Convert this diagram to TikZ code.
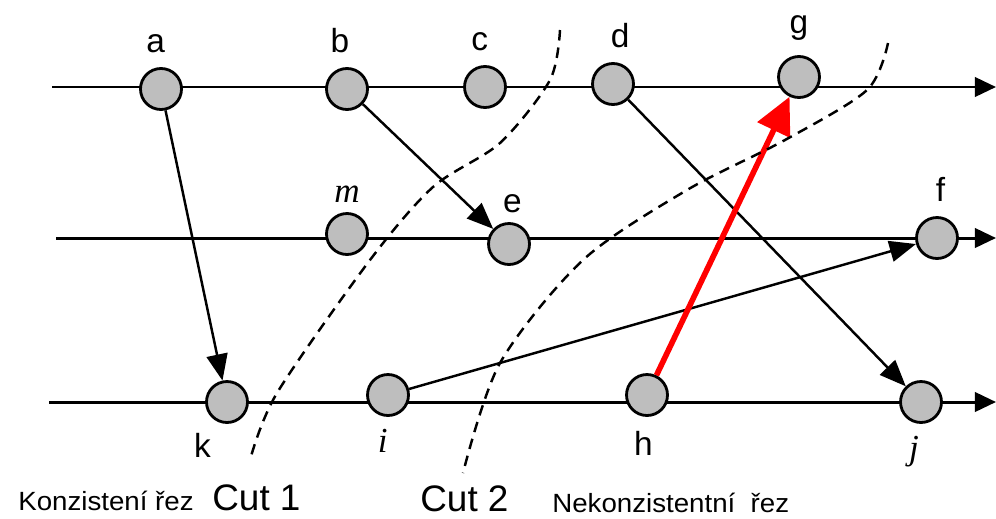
\documentclass[tikz,border=0pt]{standalone}
\usepackage{fontspec}
\setmainfont{Liberation Sans}
\newfontfamily\itserif{Liberation Serif}
\newfontfamily\widesans[FakeStretch=1.05]{Liberation Sans}
\usetikzlibrary{arrows.meta}
\definecolor{evfill}{RGB}{190,190,190}
\tikzset{
  event/.style={circle, draw, line width=1.6pt, fill=evfill, minimum size=0.82cm, inner sep=0pt},
  lbl/.style={font=\fontsize{19}{22}\selectfont, inner sep=2pt},
  ilbl/.style={font=\fontsize{20}{22}\selectfont\itserif\itshape, inner sep=2pt},
  timeline/.style={line width=1.7pt, -{Triangle[length=12pt,width=11pt]}},
  msg/.style={line width=1.4pt, -{Triangle[length=15pt,width=12pt]}},
  badmsg/.style={red, line width=3.2pt, -{Triangle[length=21pt,width=20pt]}},
  cutline/.style={line width=1.4pt, dash pattern=on 6pt off 4pt},
  cutlbl/.style={font=\fontsize{21}{24}\selectfont, inner sep=0pt, anchor=base west},
  caption/.style={font=\fontsize{15}{17}\widesans, inner sep=0pt, anchor=base west},
}
\begin{document}
\begin{tikzpicture}[x=0.02cm, y=-0.02cm, label distance=6pt]
    \useasboundingbox (0,0) rectangle (996,518);
    % process lines
    \coordinate (p1) at (52,87);  \coordinate (p1end) at (996,87);
    \coordinate (p2) at (56,238); \coordinate (p2end) at (996,238);
    \coordinate (p3) at (49,402); \coordinate (p3end) at (996,402);
    \draw[timeline] (p1) -- (p1end);
    \draw[timeline] (p2) -- (p2end);
    \draw[timeline] (p3) -- (p3end);
    % events, process 1
    \node[event, label={[lbl,xshift=-3pt]above:a}] (a) at (161,89) {};
    \node[event, label={[lbl,xshift=-4pt]above:b}] (b) at (347,89) {};
    \node[event, label={[lbl,xshift=-3pt]above:c}] (c) at (485,87) {};
    \node[event, label={[lbl,xshift=4pt]above:d}] (d) at (613,84) {};
    \node[event, label={[lbl]above:g}] (g) at (799,77) {};
    % events, process 2
    \node[event, label={[ilbl,label distance=3pt]above:m}] (m) at (347,234) {};
    \node[event, label={[lbl,xshift=2pt,label distance=3pt]above:e}] (e) at (509,244) {};
    \node[event, label={[lbl,xshift=2pt]above:f}] (f) at (937,238) {};
    % events, process 3
    \node[event, label={[lbl,xshift=-14pt,label distance=3pt]below:k}] (k) at (227,402) {};
    \node[event, label={[ilbl,xshift=-3pt,label distance=5pt]below:i}] (i) at (388,395) {};
    \node[event, label={[lbl,xshift=-2pt,label distance=6pt]below:h}] (h) at (647,395) {};
    \node[event, label={[ilbl,xshift=-4pt,label distance=5pt]below:j}] (j) at (921,402) {};
    % messages
    \draw[msg] (a) -- (k);
    \draw[msg] (b) -- (e);
    \draw[msg] (d) -- (j);
    \draw[msg] (i) -- (f);
    \draw[badmsg] (h) -- (g);
    % cuts
    \draw[cutline] plot[smooth] coordinates {(560,30) (550,80) (500,143) (433,187) (370,260) (277,393) (250,460)};
    \draw[cutline] plot[smooth] coordinates {(888,43) (867,90) (785,140) (687,190) (583,260) (500,363) (463,473)};
    \node[cutlbl] (cut1) at (212,510) {Cut 1};
    \node[cutlbl] (cut2) at (420,511) {Cut 2};
    \node[caption] (konz) at (18,510) {Konzistení řez};
    \node[caption] (nekonz) at (552,512) {Nekonzistentní\ \ řez};
\end{tikzpicture}
\end{document}
